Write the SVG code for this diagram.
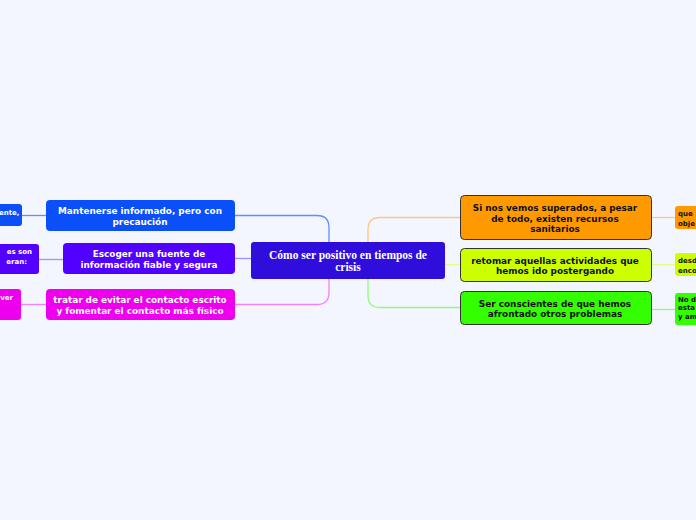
<svg xmlns="http://www.w3.org/2000/svg" width="696" height="520" viewBox="0 0 696 520">
<style>
.t{font-family:"DejaVu Sans",Verdana,sans-serif;font-weight:bold;font-size:8.9px;text-anchor:middle}
.w{fill:#ffffff}
.k{fill:#111111}
.s{font-size:7px;text-anchor:start}
.e{font-size:7px;text-anchor:end}
.c{font-family:"Liberation Serif","Times New Roman",serif;font-weight:bold;font-size:11.5px;fill:#ffffff;text-anchor:middle}
.ln{fill:none;stroke-width:1.3;stroke-opacity:0.75}
.rb{stroke:#333333;stroke-width:1}
</style>
<rect width="696" height="520" fill="#f3f6fe"/>
<g id="connectors">
<path class="ln" stroke="#2d6bff" d="M235,215.5 H317 Q329,215.5 329,227.5 V242"/>
<path class="ln" stroke="#8a6bff" d="M235,258.5 H251"/>
<path class="ln" stroke="#f25bf2" d="M235,304.5 H317 Q329,304.5 329,292.5 V279"/>
<path class="ln" stroke="#ffb85c" d="M460,217.5 H380 Q368,217.5 368,229.5 V242"/>
<path class="ln" stroke="#ddff5c" d="M445,264.5 H460"/>
<path class="ln" stroke="#6cff4c" d="M460,307.5 H380 Q368,307.5 368,295.5 V279"/>
<path class="ln" stroke="#2d6bff" d="M22,215.5 H46"/>
<path class="ln" stroke="#8a6bff" d="M39,259.5 H63"/>
<path class="ln" stroke="#f25bf2" d="M21,304.5 H46"/>
<path class="ln" stroke="#ffb85c" d="M651,217.5 H675"/>
<path class="ln" stroke="#ddff5c" d="M651,264.5 H675"/>
<path class="ln" stroke="#6cff4c" d="M651,309.5 H675"/>
</g>
<g id="center">
<rect x="251" y="242" width="194" height="37" rx="3" fill="#2f0edc"/>
<text class="c" x="348" y="258.5">Cómo ser positivo en tiempos de</text>
<text class="c" x="348" y="270.5">crisis</text>
</g>
<g id="n1">
<rect x="46" y="200" width="189" height="31" rx="4" fill="#0a4ff7"/>
<text class="t w" x="140" y="213.5">Mantenerse informado, pero con</text>
<text class="t w" x="140" y="224.5">precaución</text>
</g>
<g id="n2">
<rect x="63" y="243" width="172" height="31" rx="4" fill="#5200ff"/>
<text class="t w" x="149" y="257">Escoger una fuente de</text>
<text class="t w" x="149" y="268">información fiable y segura</text>
</g>
<g id="n3">
<rect x="46" y="289" width="189" height="31" rx="4" fill="#ee00ee"/>
<text class="t w" x="140" y="302.5">tratar de evitar el contacto escrito</text>
<text class="t w" x="140" y="313.5">y fomentar el contacto más físico</text>
</g>
<g id="l1">
<rect x="-10" y="204" width="32" height="22" rx="3" fill="#0a4ff7"/>
<text class="t w e" x="19.5" y="214.5">ente,</text>
</g>
<g id="l2">
<rect x="-10" y="244" width="49" height="30" rx="3" fill="#5200ff"/>
<text class="t w e" x="32" y="254">es son</text>
<text class="t w e" x="27" y="263.5">eran:</text>
</g>
<g id="l3">
<rect x="-10" y="289" width="31" height="31" rx="3" fill="#ee00ee"/>
<text class="t w e" x="13" y="299.5">ver</text>
</g>
<g id="r1">
<rect x="460.5" y="195.5" width="191" height="44" rx="4" fill="#ff9900" class="rb"/>
<text class="t k" x="555" y="211">Si nos vemos superados, a pesar</text>
<text class="t k" x="555" y="221.5">de todo, existen recursos</text>
<text class="t k" x="555" y="232">sanitarios</text>
</g>
<g id="r2">
<rect x="460.5" y="248.5" width="191" height="33" rx="4" fill="#ccff00" class="rb"/>
<text class="t k" x="555" y="263.5">retomar aquellas actividades que</text>
<text class="t k" x="555" y="274">hemos ido postergando</text>
</g>
<g id="r3">
<rect x="460.5" y="291.5" width="191" height="33" rx="4" fill="#33ff00" class="rb"/>
<text class="t k" x="555" y="306.5">Ser conscientes de que hemos</text>
<text class="t k" x="555" y="317">afrontado otros problemas</text>
</g>
<g id="rl1">
<rect x="675" y="206" width="40" height="23" rx="3" fill="#ff9900"/>
<text class="t k s" x="678" y="215.5">que</text>
<text class="t k s" x="678" y="225.5">obje</text>
</g>
<g id="rl2">
<rect x="675" y="253" width="40" height="23" rx="3" fill="#ccff00"/>
<text class="t k s" x="678" y="263">desd</text>
<text class="t k s" x="678" y="272.5">enco</text>
</g>
<g id="rl3">
<rect x="675" y="293" width="40" height="32" rx="3" fill="#33ff00"/>
<text class="t k s" x="678" y="301.5">No d</text>
<text class="t k s" x="678" y="310">esta</text>
<text class="t k s" x="678" y="318.5">y am</text>
</g>
</svg>
